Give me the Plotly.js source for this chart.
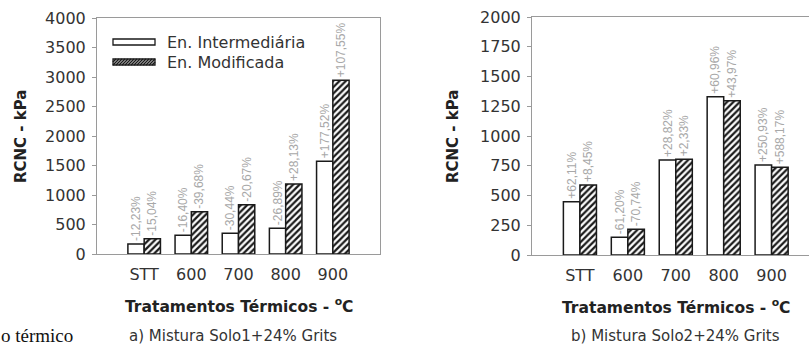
<!DOCTYPE html>
<html>
<head>
<meta charset="utf-8">
<script src="https://cdn.plot.ly/plotly-3.0.1.min.js"></script>
<style>html,body{margin:0;padding:0;background:#fff;}#chart{width:809px;height:347px;}</style>
</head>
<body>
<div id="chart"></div>
<script>
// ---- data ----
const categories = ['STT', '600', '700', '800', '900'];
const seriesNames = ['En. Intermediária', 'En. Modificada'];
// panel a) Mistura Solo1+24% Grits
const intermA = [170, 318, 352, 437, 1571];
const modifA = [260, 715, 834, 1186, 2945];
const labelsIntermA = ['-12,23%', '-16,40%', '-30,44%', '-26,89%', '+177,52%'];
const labelsModifA = ['-15,04%', '-39,68%', '-20,67%', '+28,13%', '+107,55%'];
// panel b) Mistura Solo2+24% Grits
const intermB = [448, 149, 798, 1330, 756];
const modifB = [588, 216, 804, 1297, 737];
const labelsIntermB = ['+62,11%', '-61,20%', '+28,82%', '+60,96%', '+250,93%'];
const labelsModifB = ['+8,45%', '-70,74%', '+2,33%', '+43,97%', '+588,17%'];
const yTicksA = [0, 500, 1000, 1500, 2000, 2500, 3000, 3500, 4000];
const yTicksB = [0, 250, 500, 750, 1000, 1250, 1500, 1750, 2000];
const yTitle = 'RCNC - kPa';
const xTitle = 'Tratamentos Térmicos - <sup>o</sup>C';
const captionA = 'a) Mistura Solo1+24% Grits';
const captionB = 'b) Mistura Solo2+24% Grits';
const sideText = 'o térmico';

// ---- styles ----
const W = 809, H = 347;
const px = x => x / W;
const py = y => 1 - y / H;
const FONT = 'DejaVu Sans, Verdana, sans-serif';
const labelFont = {family: 'Liberation Sans, Arial, sans-serif', size: 12, color: '#a8a8a8'};
const outline = {color: '#1a1a1a', width: 1.5};

function barTrace(y, text, hatched, xa, ya) {
  const marker = {color: '#ffffff', line: outline};
  if (hatched) marker.pattern = {shape: '/', fgcolor: '#1a1a1a', bgcolor: '#ffffff', size: 4.5, solidity: 0.5};
  return {
    type: 'bar', x: categories, y: y, text: text, textposition: 'outside', textangle: -90,
    textfont: labelFont, constraintext: 'none', cliponaxis: false,
    marker: marker, xaxis: xa, yaxis: ya, showlegend: false, hoverinfo: 'x+y'
  };
}

const data = [
  barTrace(intermA, labelsIntermA, false, 'x', 'y'),
  barTrace(modifA, labelsModifA, true, 'x', 'y'),
  barTrace(intermB, labelsIntermB, false, 'x2', 'y2'),
  barTrace(modifB, labelsModifB, true, 'x2', 'y2')
];

const tickFont = {family: FONT, size: 16, color: '#333'};
const axisLine = '#9a9a9a';

function xAxis(domain, range, anchor) {
  return {domain: domain, range: range, type: 'category', anchor: anchor,
    showline: true, linecolor: axisLine, linewidth: 1, mirror: true,
    ticks: '', showgrid: false, zeroline: false, tickfont: tickFont, ticklabelstandoff: 6};
}
function yAxis(domain, range, ticks, anchor, mirror) {
  return {domain: domain, range: range, anchor: anchor, tickvals: ticks,
    showline: true, linecolor: axisLine, linewidth: 1, mirror: mirror,
    ticks: 'outside', ticklen: 4, tickcolor: axisLine, showgrid: false, zeroline: false,
    tickfont: tickFont, ticklabelstandoff: 3};
}

const shapes = [];
// custom legend symbols (panel a)
const lx0 = 113, lx1 = 155;
shapes.push({type: 'rect', xref: 'paper', yref: 'paper', x0: px(lx0), x1: px(lx1), y0: py(45), y1: py(39),
  line: {color: '#1a1a1a', width: 1.3}, fillcolor: '#fff'});
shapes.push({type: 'rect', xref: 'paper', yref: 'paper', x0: px(lx0), x1: px(lx1), y0: py(65), y1: py(59),
  line: {color: '#1a1a1a', width: 1.3}, fillcolor: '#fff'});
let hatch = '';
for (let x = lx0 - 6; x < lx1; x += 3) {
  let xa = x, ya = 65, xb = x + 6, yb = 59;
  if (xa < lx0) { ya = 65 - (lx0 - xa); xa = lx0; }
  if (xb > lx1) { yb = 59 + (xb - lx1); xb = lx1; }
  if (xb <= xa) continue;
  hatch += 'M' + px(xa) + ',' + py(ya) + 'L' + px(xb) + ',' + py(yb);
}
shapes.push({type: 'path', xref: 'paper', yref: 'paper', path: hatch, line: {color: '#1a1a1a', width: 1.6}});

function ann(text, x, y, opts) {
  return Object.assign({text: text, xref: 'paper', yref: 'paper', x: px(x), y: py(y), showarrow: false,
    xanchor: 'center', yanchor: 'middle',
    font: {family: FONT, size: 16, color: '#333'}}, opts || {});
}
const boldFont = {family: FONT, size: 15.5, color: '#222', weight: 'bold'};
const vBoldFont = {family: FONT, size: 15, color: '#222', weight: 'bold'};
const capFont = {family: FONT, size: 15, color: '#333'};
const annotations = [
  ann(seriesNames[0], 165, 42, {xanchor: 'left'}),
  ann(seriesNames[1], 165, 62, {xanchor: 'left'}),
  ann('<b>' + yTitle + '</b>', 21, 137, {textangle: -90, font: vBoldFont}),
  ann('<b>' + yTitle + '</b>', 453, 137, {textangle: -90, font: vBoldFont}),
  ann('<b>' + xTitle + '</b>', 240, 305, {font: boldFont}),
  ann('<b>' + xTitle + '</b>', 676, 306, {font: boldFont}),
  ann(captionA, 233, 336, {font: capFont, borderpad: 0}),
  ann(captionB, 675, 336, {font: capFont, borderpad: 0}),
  ann(sideText, 0, 335, {xanchor: 'left', borderpad: 0, font: {family: 'Liberation Serif, Times New Roman, serif', size: 19, color: '#111'}})
];

const layout = {
  width: W, height: H, margin: {l: 0, r: 0, t: 0, b: 0},
  paper_bgcolor: '#fff', plot_bgcolor: '#fff',
  barmode: 'group', bargap: 0.31, bargroupgap: 0,
  xaxis: xAxis([px(97), px(380)], [-1, 5], 'y'),
  yaxis: yAxis([py(254), py(18)], [0, 4000], yTicksA, 'x', true),
  xaxis2: xAxis([px(532), 1], [-1, 4.78], 'y2'),
  yaxis2: yAxis([py(255), py(17)], [0, 2000], yTicksB, 'x2', false),
  shapes: shapes, annotations: annotations
};

Plotly.newPlot('chart', data, layout, {displayModeBar: false, staticPlot: true});
</script>
</body>
</html>
